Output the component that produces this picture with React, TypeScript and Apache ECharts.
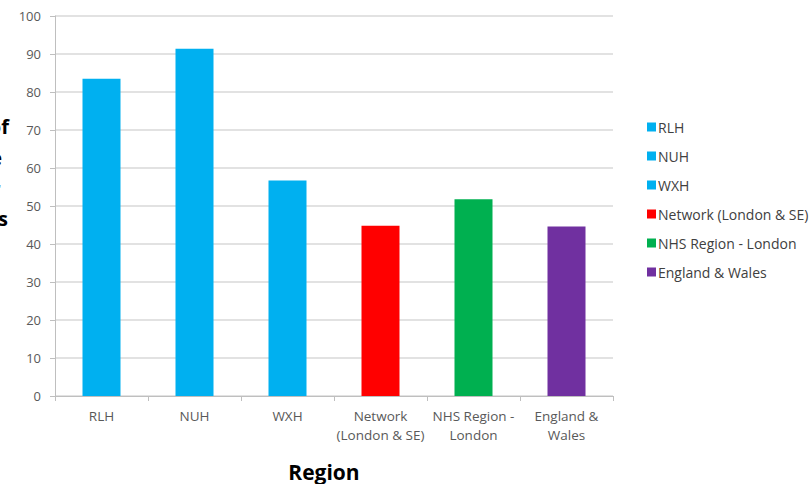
import React, { useEffect, useRef } from "react";
import * as echarts from "echarts";

const categories = ["RLH", "NUH", "WXH", "Network\n(London & SE)", "NHS Region -\nLondon", "England &\nWales"];
const seriesNames = ["RLH", "NUH", "WXH", "Network (London & SE)", "NHS Region - London", "England & Wales"];
const values = [83.5, 91.4, 56.7, 44.8, 51.8, 44.6];
const colors = ["#00B0F0", "#00B0F0", "#00B0F0", "#FF0000", "#00B050", "#7030A0"];
const yTitleLines = ["Percentage of", "patients where", "the tumour", "stage was"];
const xTitle = "Region";

const FONT = "'Open Sans', sans-serif";

export default function App() {
  const ref = useRef<HTMLDivElement>(null);
  useEffect(() => {
    if (!ref.current) return;
    const chart = echarts.init(ref.current, null, { renderer: "svg" });
    const series = seriesNames.map((name, i) => ({
      name,
      type: "bar",
      stack: "all",
      barWidth: 38,
      itemStyle: { color: colors[i] },
      data: values.map((v, j) => (j === i ? v : "-")),
    }));
    const lineRight = [9, 2, 0.5, 8];
    const lineY = [126, 157, 188, 218];
    chart.setOption({
      animation: false,
      textStyle: { fontFamily: FONT },
      grid: { left: 55, right: 197, top: 16, bottom: 88, containLabel: false },
      legend: {
        orient: "vertical",
        left: 642,
        top: 115,
        itemWidth: 9,
        itemHeight: 9,
        itemGap: 15,
        icon: "rect",
        textStyle: { fontFamily: FONT, fontSize: 14, color: "#404040", padding: [0, 0, 0, -3] },
        data: seriesNames,
      },
      xAxis: {
        type: "category",
        data: categories,
        axisLine: { lineStyle: { color: "#bfbfbf" } },
        axisTick: { show: true, length: 5, lineStyle: { color: "#bfbfbf" } },
        axisLabel: { fontFamily: FONT, fontSize: 13.5, color: "#595959", margin: 10, lineHeight: 19, interval: 0 },
      },
      yAxis: {
        type: "value",
        min: 0,
        max: 100,
        interval: 10,
        axisLine: { show: true, lineStyle: { color: "#bfbfbf" } },
        axisTick: { show: true, length: 5, lineStyle: { color: "#bfbfbf" } },
        splitLine: { lineStyle: { color: "#d9d9d9", width: 1.5 } },
        axisLabel: { fontFamily: FONT, fontSize: 13, color: "#595959", margin: 14 },
      },
      graphic: [
        ...yTitleLines.map((t, i) => ({
          type: "text",
          x: lineRight[i],
          y: lineY[i],
          style: {
            text: t,
            font: `bold 20px ${FONT}`,
            fill: "#000",
            align: "right",
            verticalAlign: "middle",
          },
        })),
        {
          type: "text",
          x: 324,
          y: 472,
          style: {
            text: xTitle,
            font: `bold 21px ${FONT}`,
            fill: "#000",
            align: "center",
            verticalAlign: "middle",
          },
        },
      ],
      series,
    });
    return () => chart.dispose();
  }, []);
  return <div ref={ref} style={{ width: 810, height: 484, position: "absolute", left: 0, top: 0 }} />;
}
